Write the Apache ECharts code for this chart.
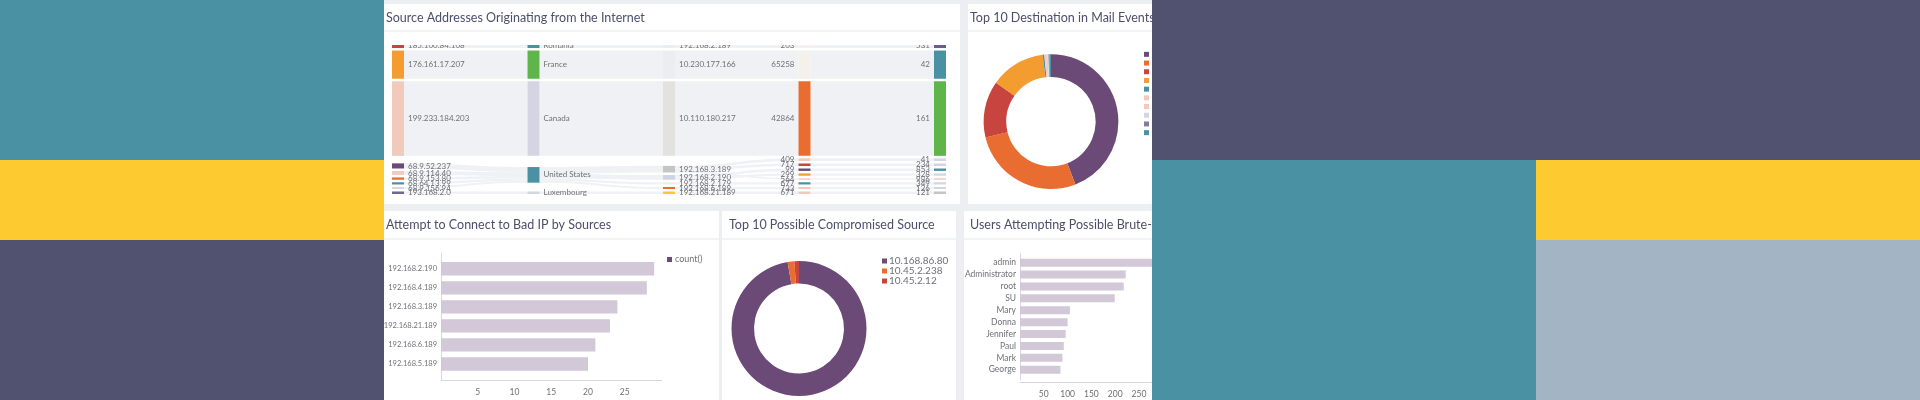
<!DOCTYPE html>
<html>
<head>
<meta charset="utf-8">
<title>Dashboard</title>
<script src="https://cdn.jsdelivr.net/npm/echarts@6/dist/echarts.min.js"></script>
<style>
  html, body { margin: 0; padding: 0; background: #eceef1; }
  #main { width: 1920px; height: 400px; }
</style>
</head>
<body>
<div id="main"></div>
<script>
// sankey rows, one entry per flow
const flowSources = ['185.100.84.108', '176.161.17.207', '199.233.184.203', '68.9.52.237', '68.9.52.237', '68.9.114.40', '68.9.114.40', '68.9.153.80', '68.64.13.99', '68.9.156.94', '193.168.2.0']
const flowCountries = ['Romania', 'France', 'Canada', 'United States', 'United States', 'United States', 'United States', 'United States', 'United States', 'United States', 'Luxembourg']
const flowDests = ['192.168.2.189', '10.230.177.166', '10.110.180.217', '192.168.3.189', '192.168.3.189', '192.168.3.189', '192.168.2.190', '192.168.2.190', '192.168.2.179', '192.168.6.189', '192.168.21.189']
const flowPorts = ['203', '65258', '42864', '409', '717', '564', '99', '299', '677', '733', '671']
const flowCounts = ['531', '42', '161', '41', '234', '986', '853', '328', '349', '126', '121']
// thin rows sharing a parent are listed thickest first, the layout keeps that order
const flowWeights = [5, 28, 74, 2.6, 2.5, 1.5, 2.4, 2.3, 2.2, 2, 2.5]

// bad ip bars
const badIpSources = ['192.168.2.190', '192.168.4.189', '192.168.3.189', '192.168.21.189', '192.168.6.189', '192.168.5.189']
const badIpCounts = [29, 28, 24, 23, 21, 20]

// brute force bars
const bruteUsers = ['admin', 'Administrator', 'root', 'SU', 'Mary', 'Donna', 'Jennifer', 'Paul', 'Mark', 'George']
const bruteCounts = [306, 222, 218, 199, 105, 100, 96, 92, 89, 85]

// donuts
const mailNames = ['10.1.1.21', '10.1.1.22', '10.1.1.23', '10.1.1.24', '10.1.1.25', '10.1.1.26', '10.1.1.27', '10.1.1.28', '10.1.1.29', '10.1.1.30']
const mailValues = [441, 271, 136, 132, 4, 4, 4, 2, 2, 4]
const compromisedNames = ['10.168.86.80', '10.45.2.238', '10.45.2.12']
const compromisedValues = [973, 16, 11]

const purple = '#6c4a78'
const orange = '#e96d30'
const red = '#c8443f'
const amber = '#f39c2f'
const teal = '#4a92a3'
const pink = '#f2c9bd'
const lilac = '#d4d5e3'
const slate = '#50526f'
const green = '#5eb54a'
const donutColors = [purple, orange, red, amber, teal, pink, pink, lilac, '#8a7a9b', teal]

const nodeColors = {
  '185.100.84.108': red, '176.161.17.207': amber, '199.233.184.203': pink, '68.9.52.237': purple,
  '68.9.114.40': pink, '68.9.153.80': orange, '68.64.13.99': teal, '68.9.156.94': lilac, '193.168.2.0': '#6f6790',
  'Romania': teal, 'France': green, 'Canada': lilac, 'United States': teal, 'Luxembourg': lilac,
  '192.168.2.189': '#ecedf1', '10.230.177.166': '#ecedf1', '10.110.180.217': '#e4e2de', '192.168.3.189': '#c5c5c5',
  '192.168.2.190': '#cfd3e6', '192.168.2.179': '#ecedf1', '192.168.6.189': orange, '192.168.21.189': '#fdc92f',
  '203': '#f4f0ea', '65258': '#f4f0ea', '42864': orange, '409': pink, '717': red, '564': pink, '99': purple,
  '299': amber, '677': teal, '733': pink, '671': pink,
  '531': '#6f5a8f', '42': teal, '161': green, '41': lilac, '234': lilac, '986': pink, '853': teal,
  '328': lilac, '349': lilac, '126': lilac, '121': '#c5c5c5'
}

// build nodes and links from the rows
const columns = [flowSources, flowCountries, flowDests, flowPorts, flowCounts]
const nodeNames = []
columns.forEach(col => col.forEach(name => {
  if (!nodeNames.includes(name)) nodeNames.push(name)
}))
const sankeyNodes = nodeNames.map(name => ({ name, itemStyle: { color: nodeColors[name] } }))
const sankeyLinks = []
for (let c = 0; c < columns.length - 1; c++) {
  flowWeights.forEach((value, i) => {
    const source = columns[c][i]
    const target = columns[c + 1][i]
    const found = sankeyLinks.find(l => l.source === source && l.target === target)
    if (found) found.value += value
    else sankeyLinks.push({ source, target, value })
  })
}

const rect = (x, y, width, height, fill, z) => ({
  type: 'rect', silent: true, z,
  shape: { x, y, width, height },
  style: { fill }
})

const titleStyle = { fontFamily: 'Lato', fontSize: 12.5, fontWeight: 'normal', color: '#4c4f6b' }
const makeTitle = (text, left, top) => ({ text, left, top, padding: 0, textStyle: titleStyle })
const axisColor = '#d5d6e3'
const labelColor = '#6f7078'

const barAxisY = (data, gridIndex, fontSize) => ({
  type: 'category', gridIndex, data, inverse: true,
  axisLine: { show: false }, axisTick: { show: false },
  axisLabel: { color: labelColor, fontFamily: 'Lato', fontSize, margin: 4 }
})
const barAxisX = (gridIndex, max, interval) => ({
  type: 'value', gridIndex, min: 0, max, interval, offset: 6.5,
  axisLine: { show: true, lineStyle: { color: axisColor } }, axisTick: { show: false },
  splitLine: { show: false },
  axisLabel: { color: labelColor, fontFamily: 'Lato', fontSize: 8.5, margin: 8, showMinLabel: false, showMaxLabel: false }
})
const legendBase = {
  orient: 'vertical', itemWidth: 5, itemHeight: 5, itemGap: 0, padding: 0, selectedMode: false,
  icon: 'rect'
}

const chart = echarts.init(document.getElementById('main'))
chart.setOption({
  animation: false,
  backgroundColor: '#eceef1',
  title: [
    makeTitle('Source Addresses Originating from the Internet', 386, 11),
    makeTitle('Top 10 Destination in Mail Events', 970, 11),
    makeTitle('Attempt to Connect to Bad IP by Sources', 386, 218),
    makeTitle('Top 10 Possible Compromised Source', 729, 218),
    makeTitle('Users Attempting Possible Brute-force Login', 970, 218)
  ],
  legend: [
    {
      ...legendBase, left: 667, top: 255,
      data: [{ name: 'count()', itemStyle: { color: purple } }],
      itemGap: 0,
      textStyle: { color: labelColor, fontFamily: 'Lato', fontSize: 9, padding: [0, 0, 0, -2] }
    },
    {
      ...legendBase, left: 1144, top: 50, data: mailNames,
      textStyle: { color: labelColor, fontFamily: 'Lato', fontSize: 8, lineHeight: 8.7 }
    },
    {
      ...legendBase, left: 882, top: 256, data: compromisedNames,
      textStyle: { color: labelColor, fontFamily: 'Lato', fontSize: 10, lineHeight: 8.5, padding: [0, 0, 0, -3] }
    }
  ],
  grid: [
    { left: 441, top: 259.2, width: 220.5, height: 114.3 },
    { left: 1020, top: 256.7, width: 166.6, height: 119 }
  ],
  xAxis: [barAxisX(0, 30, 5), barAxisX(1, 350, 50)],
  yAxis: [barAxisY(badIpSources, 0, 7.5), barAxisY(bruteUsers, 1, 8.5)],
  series: [
    {
      type: 'sankey', silent: true,
      left: 392, top: 43, width: 554, height: 151,
      nodeWidth: 12, nodeGap: 2.5, layoutIterations: 2,
      nodeAlign: 'justify',
      data: sankeyNodes, links: sankeyLinks,
      label: { position: 'right', distance: 4, color: labelColor, fontFamily: 'Lato', fontSize: 8 },
      levels: [
        { depth: 3, label: { position: 'left' } },
        { depth: 4, label: { position: 'left' } }
      ],
      lineStyle: { color: '#f0f1f4', opacity: 1, curveness: 0.5 },
      emphasis: { disabled: true }
    },
    {
      name: 'count()', type: 'bar', xAxisIndex: 0, yAxisIndex: 0,
      data: badIpCounts, barWidth: 13.3, itemStyle: { color: '#d2c8d7' }, silent: true
    },
    {
      name: 'users', type: 'bar', xAxisIndex: 1, yAxisIndex: 1,
      data: bruteCounts, barWidth: 8, itemStyle: { color: '#d2c8d7' }, silent: true
    },
    {
      type: 'pie', center: [1051, 121.6], radius: [44.7, 67.4], silent: true,
      label: { show: false }, color: donutColors,
      data: mailNames.map((name, i) => ({ name, value: mailValues[i] }))
    },
    {
      type: 'pie', center: [799, 328.5], radius: [45, 67.5], silent: true,
      label: { show: false }, color: [purple, orange, red],
      data: compromisedNames.map((name, i) => ({ name, value: compromisedValues[i] }))
    }
  ],
  graphic: [
    // backdrop bands and the cards
    rect(0, 0, 384, 160, teal, -10),
    rect(0, 160, 384, 80, '#fdcb2f', -10),
    rect(0, 240, 384, 160, slate, -10),
    rect(384, 4, 576, 200, '#fff', -5),
    rect(968, 4, 200, 200, '#fff', -5),
    rect(384, 211, 335, 189, '#fff', -5),
    rect(722, 211, 234, 189, '#fff', -5),
    rect(964, 211, 200, 189, '#fff', -5),
    rect(384, 30, 576, 2, '#f2f3f5', -4),
    rect(968, 30, 200, 2, '#f2f3f5', -4),
    rect(384, 238, 335, 2, '#f2f3f5', -4),
    rect(722, 238, 234, 2, '#f2f3f5', -4),
    rect(964, 238, 200, 2, '#f2f3f5', -4),
    // axis lines of the two bar charts run past the bands
    rect(441, 253, 1, 127, axisColor, -3),
    rect(1020, 253, 1, 127, axisColor, -3),
    // sankey is cut off at the top of its panel
    rect(385, 32, 574, 13, '#fff', 50),
    // bands laid over the right edge of the dashboard
    rect(1152, 0, 768, 160, slate, 100),
    rect(1152, 160, 384, 240, teal, 100),
    rect(1536, 160, 384, 80, '#fdcb2f', 100),
    rect(1536, 240, 384, 160, '#a3b5c4', 100)
  ]
})
</script>
</body>
</html>
